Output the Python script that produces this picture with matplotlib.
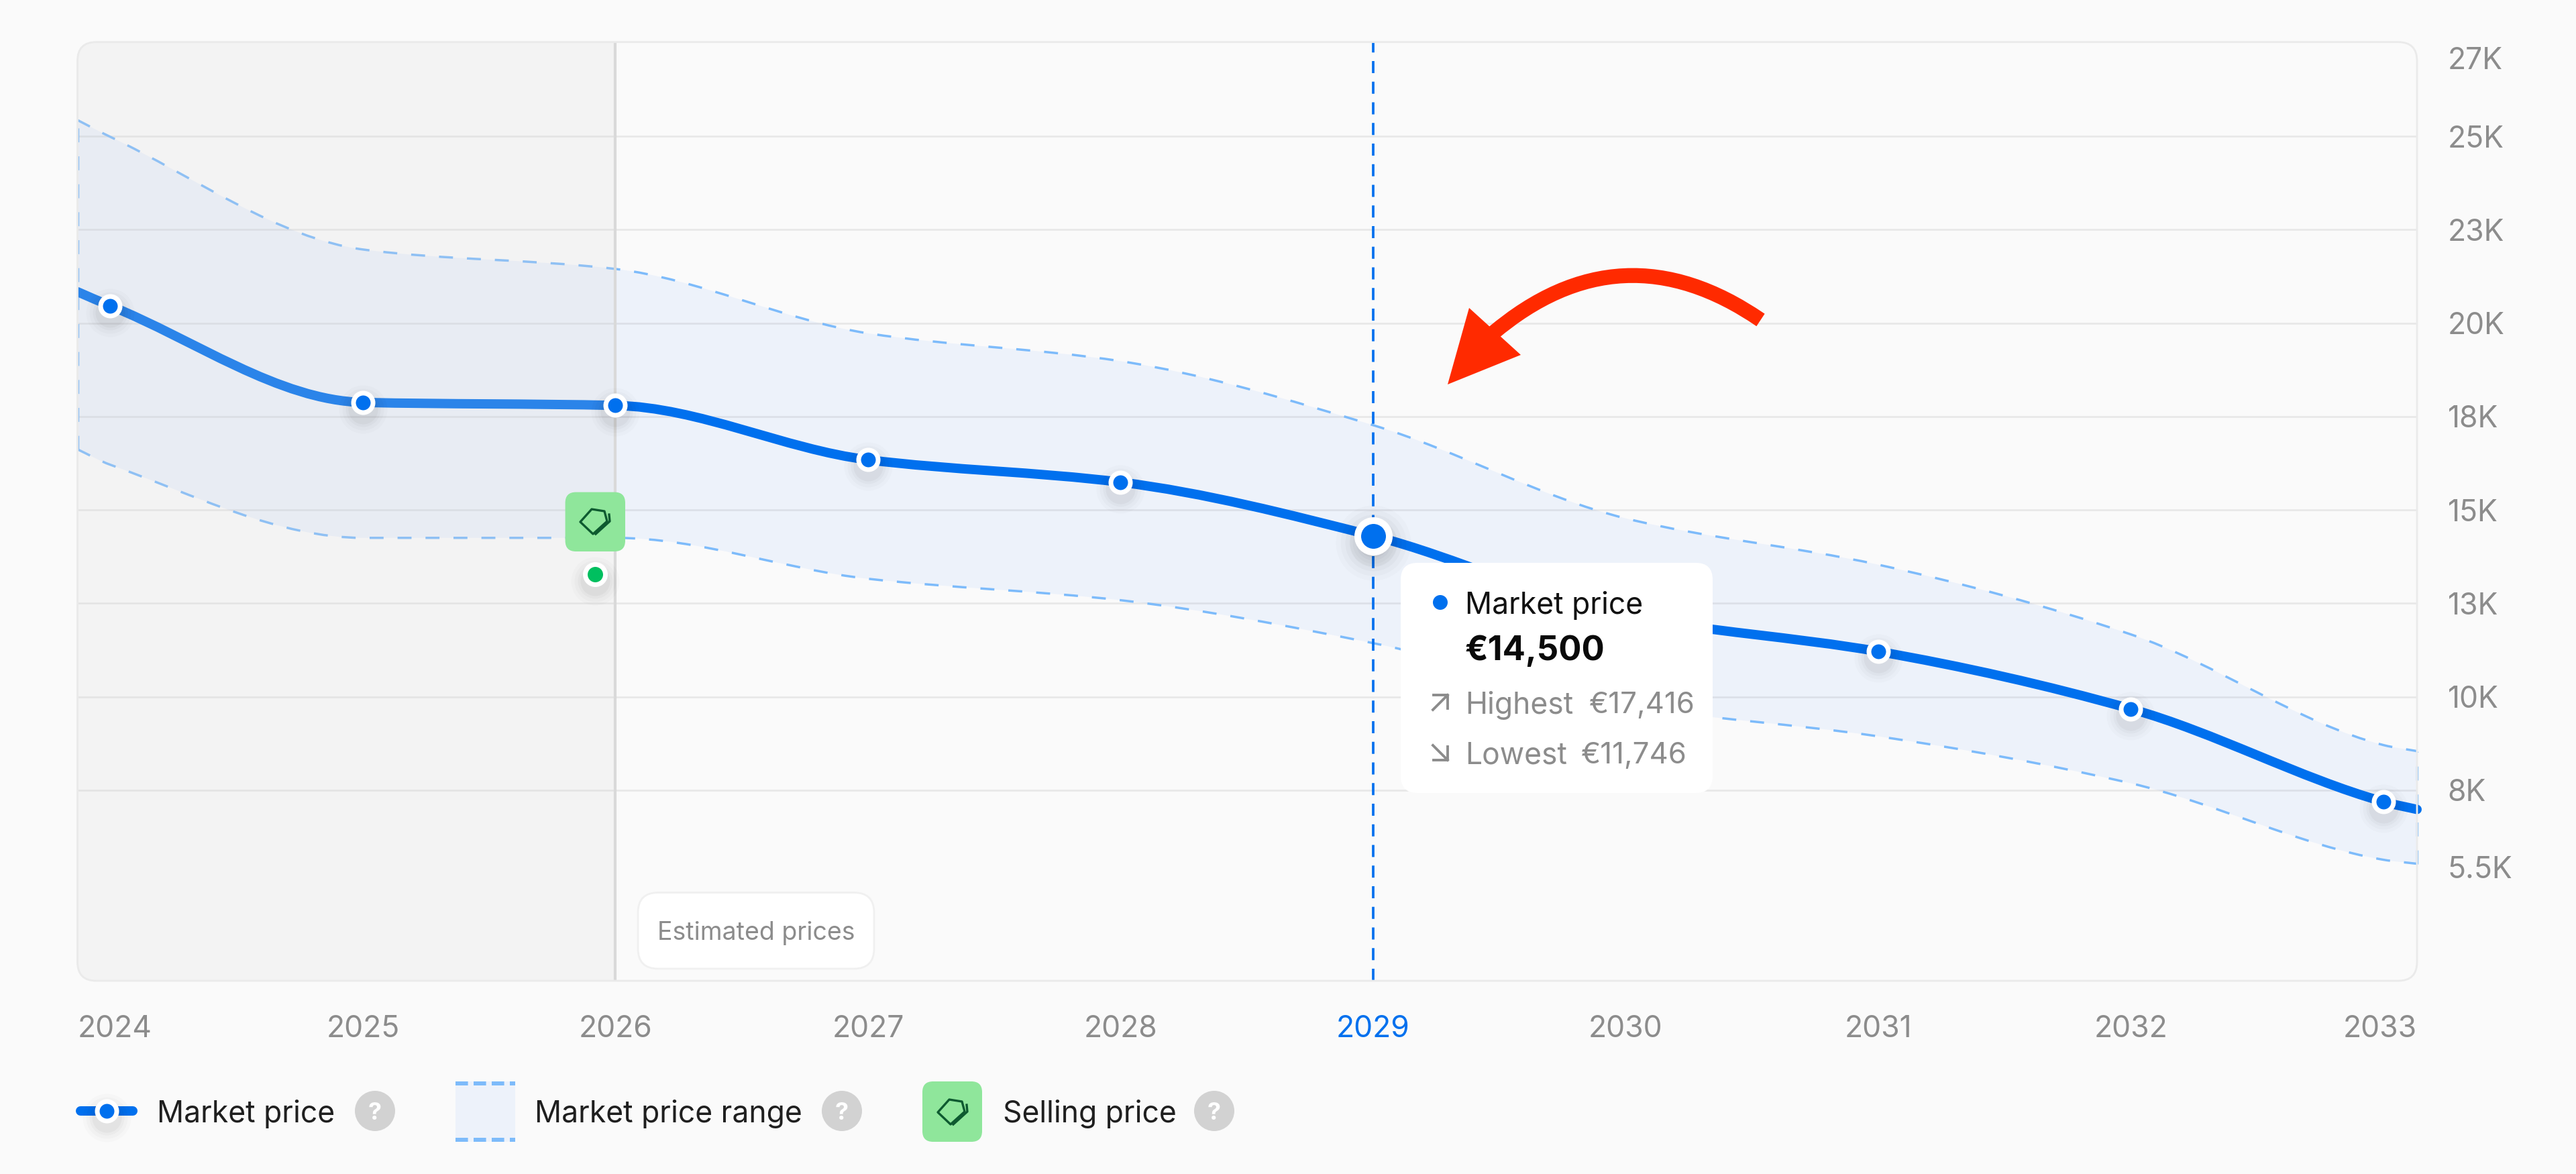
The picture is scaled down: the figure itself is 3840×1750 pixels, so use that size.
import matplotlib
matplotlib.use("Agg")
import matplotlib.pyplot as plt
from matplotlib.patches import FancyBboxPatch, PathPatch, Polygon, Circle, Rectangle
from matplotlib.path import Path
from matplotlib.transforms import ScaledTranslation

plt.rcParams["font.family"] = ["Inter", "DejaVu Sans"]

# values, euros
years = [2024, 2025, 2026, 2027, 2028, 2029, 2030, 2031, 2032, 2033]
market_points = [20464, 17879, 17798, 16343, 15743, 14307, 12171, 11211, 9676, 7190]
upper_points = [24987, 21972, 21451, 19728, 18983, 17269, 14774, 13535, 11669, 8707]
lower_points = [16210, 14253, 14253, 13158, 12584, 11435, 9766, 8940, 7684, 5637]

# where the three lines meet the plot edges
edge_years = [2023.87, 2033.133]
market_edges = [20841, 6984]
upper_edges = [25436, 8545]
lower_edges = [16623, 5530]

hover_year = 2029
hover_value = 14307
history_end = 2026
selling_year = 2025.918
selling_value = 13275

grid_values = [25000, 22500, 20000, 17500, 15000, 12500, 10000, 7500]
ytick_values = [27105, 25000, 22500, 20000, 17500, 15000, 12500, 10000, 7500, 5440]
ytick_labels = ["27K", "25K", "23K", "20K", "18K", "15K", "13K", "10K", "8K", "5.5K"]

BG = "#FAFAFA"
BLUE = "#0070EE"
DASH = "#7DBBFA"
BAND = "#EDF2FA"
GREY_TEXT = "#8C8C8C"
GREEN = "#8FE69B"
DARK_GREEN = "#0E5A30"
PX = 0.72  # points per pixel at dpi 100


def curve_segments(points, edges):
    """Bezier control points of a monotone curve through the values"""
    x = [edge_years[0]] + years + [edge_years[1]]
    y = [edges[0]] + points + [edges[1]]
    steps = [(y[i + 1] - y[i]) / (x[i + 1] - x[i]) for i in range(len(x) - 1)]
    slopes = [steps[0]]
    for i in range(1, len(x) - 1):
        if steps[i - 1] * steps[i] <= 0:
            slopes.append(0)
        else:
            slopes.append(2 * steps[i - 1] * steps[i] / (steps[i - 1] + steps[i]))
    slopes.append(steps[-1])
    verts = [(x[0], y[0])]
    for i in range(len(x) - 1):
        dx = (x[i + 1] - x[i]) / 3
        verts.append((x[i] + dx, y[i] + slopes[i] * dx))
        verts.append((x[i + 1] - dx, y[i + 1] - slopes[i + 1] * dx))
        verts.append((x[i + 1], y[i + 1]))
    return verts


def curve_path(points, edges):
    verts = curve_segments(points, edges)
    return Path(verts, [Path.MOVETO] + [Path.CURVE4] * (len(verts) - 1))


def draw_tag(a, cx, cy, s=1.0):
    body = [(-21, 1), (-4, -18), (15, -15), (19, 0), (-2, 19)]
    a.add_patch(Polygon([(cx + p * s, cy + q * s) for p, q in body], closed=True, fill=False,
                        ec=DARK_GREEN, lw=2.4, joinstyle="round", zorder=12))
    a.plot([cx + 2 * s, cx + 23 * s, cx + 22 * s], [cy + 19 * s, cy, cy - 10 * s],
           color=DARK_GREEN, lw=2.4, zorder=12)


def help_icon(a, cx, cy):
    a.add_patch(Circle((cx, cy), 30, color="#D2D2D2", lw=0))
    a.text(cx, cy, "?", color="white", fontsize=26, weight="bold", ha="center", va="center_baseline")


fig = plt.figure(figsize=(38.4, 17.5), dpi=100, facecolor=BG)
ax = fig.add_axes([115.5 / 3840, (1750 - 1462) / 1750, (3603 - 115.5) / 3840, (1462 - 62.7) / 1750],
                  facecolor="none", zorder=1)
ax.set_xlim(edge_years)
ax.set_ylim(2397, 27524)
for s in ax.spines.values():
    s.set_visible(False)

# overlay in pixel coordinates for the page furniture
ui = fig.add_axes([0, 0, 1, 1], facecolor="none", zorder=2)
ui.set_xlim(0, 3840)
ui.set_ylim(1750, 0)
ui.axis("off")

frame = FancyBboxPatch((115.5, 62.7), 3603 - 115.5, 1462 - 62.7, boxstyle="round,pad=0,rounding_size=28",
                       fill=False, ec="#EAEAEA", lw=2)
ui.add_patch(frame)

# band
upper_verts = curve_segments(upper_points, upper_edges)
lower_verts = curve_segments(lower_points, lower_edges)[::-1]
n = len(upper_verts)
band = Path(upper_verts + lower_verts + [upper_verts[0]],
            [Path.MOVETO] + [Path.CURVE4] * (n - 1) + [Path.LINETO] + [Path.CURVE4] * (n - 1) + [Path.CLOSEPOLY])
ax.add_patch(PathPatch(band, fc=BAND, lw=0, zorder=1))
ax.hlines(grid_values, edge_years[0], edge_years[1], color="black", alpha=0.07, lw=2, zorder=2)

for vals, ends in ((upper_points, upper_edges), (lower_points, lower_edges)):
    ax.add_patch(PathPatch(curve_path(vals, ends), fill=False, ec=DASH, lw=2.5,
                           ls=(0, (6, 6)), zorder=3))
for i in (0, 1):
    ax.plot([edge_years[i]] * 2, [lower_edges[i], upper_edges[i]], color=DASH, lw=2.5,
            ls=(0, (6, 6)), zorder=3, clip_on=False)

# market price line, cut at the left edge but its round end shows on the right
line = PathPatch(curve_path(market_points, market_edges), fill=False, ec=BLUE, lw=14 * PX,
                 capstyle="round", zorder=4)
ax.add_patch(line)
line.set_clip_path(Rectangle((0, 0), 1.01, 1, transform=ax.transAxes))

# history part
span = ax.axvspan(edge_years[0], history_end, fc="#D8D8D8", alpha=0.2, lw=0, zorder=5)
span.set_clip_path(frame)
ax.axvline(history_end, color="#D9D9D9", lw=3, zorder=5.5)
ax.axvline(hover_year, color=BLUE, lw=2.7, ls=(0, (4.8, 3.4)), zorder=5.5)

# markers with soft shadows
shadow = ax.transData + ScaledTranslation(0, -10 / 100, fig.dpi_scale_trans)
for d, al in ((72, 0.014), (62, 0.018), (52, 0.024), (44, 0.03)):
    ax.plot(years, market_points, "o", ms=d * PX, mew=0, color="black", alpha=al, transform=shadow, zorder=6)
    ax.plot(selling_year, selling_value, "o", ms=d * PX, mew=0, color="black", alpha=al, transform=shadow, zorder=6)
for d, al in ((112, 0.014), (98, 0.018), (84, 0.024), (70, 0.03)):
    ax.plot(hover_year, hover_value, "o", ms=d * PX, mew=0, color="black", alpha=al, transform=shadow, zorder=6)
ax.plot(years, market_points, "o", ms=29 * PX, mew=7 * PX, mfc=BLUE, mec="white", zorder=7)
ax.plot(hover_year, hover_value, "o", ms=47 * PX, mew=10 * PX, mfc=BLUE, mec="white", zorder=8)
ax.plot(selling_year, selling_value, "o", ms=30 * PX, mew=7 * PX, mfc="#00BF5F", mec="white", zorder=7)

# axis labels, the first and last year sit inside the plot edges
ax.set_xticks(years)
ax.set_xticklabels(years)
ax.tick_params(axis="x", length=0, pad=37, labelsize=32, labelcolor=GREY_TEXT)
labels = ax.get_xticklabels()
labels[0].set_ha("left")
labels[0].set_transform(labels[0].get_transform() + ScaledTranslation(-0.49, 0, fig.dpi_scale_trans))
labels[-1].set_ha("right")
labels[-1].set_transform(labels[-1].get_transform() + ScaledTranslation(0.50, 0, fig.dpi_scale_trans))
labels[5].set_color(BLUE)
ax.yaxis.tick_right()
ax.set_yticks(ytick_values)
ax.set_yticklabels(ytick_labels)
ax.tick_params(axis="y", length=0, pad=33, labelsize=32, labelcolor=GREY_TEXT)

# selling badge
ui.add_patch(FancyBboxPatch((842.6, 733.6), 89.4, 88.4, boxstyle="round,pad=0,rounding_size=16", fc=GREEN, lw=0, zorder=10))
draw_tag(ui, 886, 777)

# estimated prices label
ui.add_patch(FancyBboxPatch((951, 1330.5), 352, 113.5, boxstyle="round,pad=0,rounding_size=30",
                            fc="white", ec="#F0F0F0", lw=2, zorder=10))
ui.text(980, 1387, "Estimated prices", color=GREY_TEXT, fontsize=27, va="center_baseline", zorder=11)

# tooltip
ui.add_patch(FancyBboxPatch((2088, 839), 465, 343, boxstyle="round,pad=0,rounding_size=25", fc="white", lw=0, zorder=10))
ui.add_patch(Circle((2147, 898), 11, color=BLUE, lw=0, zorder=11))
ui.text(2184, 898, "Market price", color="#111111", fontsize=32, va="center_baseline", zorder=11)
ui.text(2184, 965, "€14,500", color="#0A0A0A", fontsize=36.5, weight="bold", va="center_baseline", zorder=11)
ui.text(2184, 1047, "Highest", color=GREY_TEXT, fontsize=32, va="center_baseline", zorder=11)
ui.text(2369, 1047, "€17,416", color=GREY_TEXT, fontsize=31.5, va="center_baseline", zorder=11)
ui.text(2184, 1122, "Lowest", color=GREY_TEXT, fontsize=32, va="center_baseline", zorder=11)
ui.text(2357, 1122, "€11,746", color=GREY_TEXT, fontsize=31.5, va="center_baseline", zorder=11)
ui.plot([2136, 2158], [1058, 1036], color=GREY_TEXT, lw=2.8, zorder=11)
ui.plot([2137, 2158, 2158], [1036, 1036, 1056], color=GREY_TEXT, lw=2.8, zorder=11)
ui.plot([2136, 2158], [1111, 1133], color=GREY_TEXT, lw=2.8, zorder=11)
ui.plot([2137, 2158, 2158], [1133, 1133, 1113], color=GREY_TEXT, lw=2.8, zorder=11)

# red arrow
ui.add_patch(PathPatch(Path([(2624.5, 477), (2417, 335), (2225, 497)], [Path.MOVETO, Path.CURVE3, Path.CURVE3]),
                       fill=False, ec="#FF2A00", lw=16, capstyle="butt", zorder=12))
ui.add_patch(Polygon([(2158, 573), (2190, 459), (2267, 529)], closed=True, fc="#FF2A00", lw=0, zorder=12))

# legend
ui.plot([120, 198], [1656, 1656], color=BLUE, lw=14 * PX, solid_capstyle="round")
ui_shadow = ui.transData + ScaledTranslation(0, -10 / 100, fig.dpi_scale_trans)
for d, al in ((72, 0.014), (62, 0.018), (52, 0.024), (44, 0.03)):
    ui.plot(159.4, 1656, "o", ms=d * PX, mew=0, color="black", alpha=al, transform=ui_shadow)
ui.plot(159.4, 1656, "o", ms=29 * PX, mew=7 * PX, mfc=BLUE, mec="white")
ui.text(234, 1656, "Market price", color="#1F1F1F", fontsize=32, va="center_baseline")
help_icon(ui, 559, 1656)

ui.add_patch(Rectangle((679, 1612), 89, 90, fc=BAND, lw=0))
for yy in (1615, 1699):
    ui.plot([679, 768], [yy, yy], color=DASH, lw=6 * PX, ls=(0, (3.1, 1.4)))
ui.text(797, 1656, "Market price range", color="#1F1F1F", fontsize=32, va="center_baseline")
help_icon(ui, 1255, 1656)

ui.add_patch(FancyBboxPatch((1375, 1612), 89, 90, boxstyle="round,pad=0,rounding_size=16", fc=GREEN, lw=0))
draw_tag(ui, 1419, 1657)
ui.text(1495, 1656, "Selling price", color="#1F1F1F", fontsize=32, va="center_baseline")
help_icon(ui, 1810, 1656)

fig.savefig("out.png", dpi=100, facecolor=BG)
